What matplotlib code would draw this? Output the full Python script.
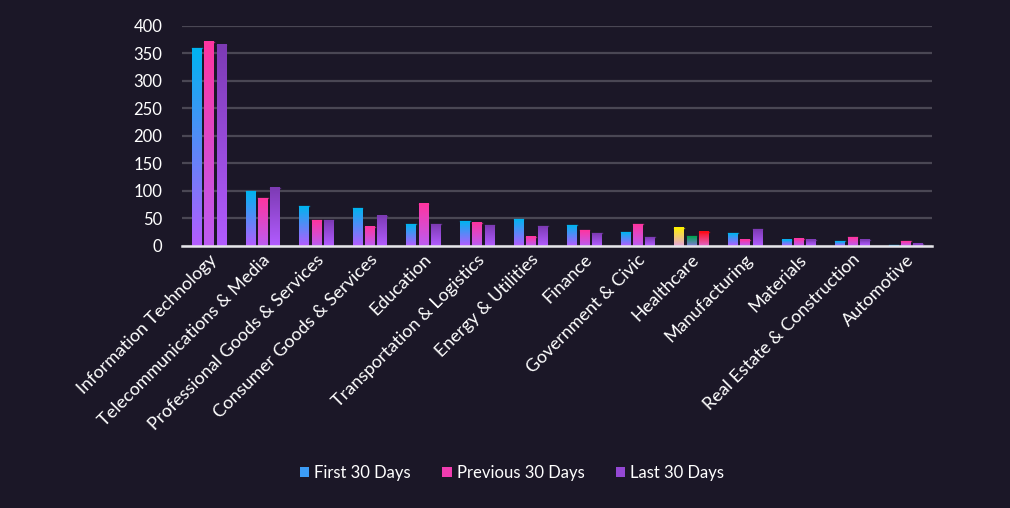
import matplotlib.pyplot as plt
import numpy as np
from matplotlib.colors import LinearSegmentedColormap
from matplotlib.patches import Patch

categories = ['Information Technology', 'Telecommunications & Media', 'Professional Goods & Services',
              'Consumer Goods & Services', 'Education', 'Transportation & Logistics', 'Energy & Utilities',
              'Finance', 'Government & Civic', 'Healthcare', 'Manufacturing', 'Materials',
              'Real Estate & Construction', 'Automotive']
first_30 = [360, 99, 72, 69, 40, 45, 49, 38, 25, 33, 23, 11, 8, 1]
previous_30 = [371, 87, 47, 35, 77, 42, 17, 28, 40, 18, 11, 13, 16, 8]
last_30 = [366, 106, 47, 55, 40, 38, 36, 23, 16, 26, 30, 11, 11, 4]
series_names = ['First 30 Days', 'Previous 30 Days', 'Last 30 Days']

# top / bottom colours of each series gradient
grad = [('#00b4f0', '#b45cff'), ('#ff35a0', '#bc5cf2'), ('#7d3bb4', '#b25cff')]
# healthcare bars use their own colours
special = {'Healthcare': [('#fff200', '#e6a6dc'), ('#00a550', '#8478d6'), ('#ff0a14', '#e066c8')]}

bg = '#1b1727'
plt.rcParams['font.family'] = ['Lato', 'DejaVu Sans']

fig = plt.figure(figsize=(10.1, 5.08), dpi=100, facecolor=bg)
ax = fig.add_axes([0.180, 0.516, 0.743, 0.433])
ax.set_facecolor(bg)

x = np.arange(len(categories))
w = 0.18
offs = [-0.23, 0, 0.23]
grad_img = np.linspace(1, 0, 100).reshape(-1, 1)

for s, vals in enumerate([first_30, previous_30, last_30]):
    for i, v in enumerate(vals):
        top, bot = grad[s]
        if categories[i] in special:
            top, bot = special[categories[i]][s]
        cmap = LinearSegmentedColormap.from_list('g', [bot, top])
        x0 = x[i] + offs[s] - w / 2 + 0.01
        ax.imshow(grad_img, extent=(x0, x0 + w, 0, v), aspect='auto', cmap=cmap,
                  vmin=0, vmax=1, zorder=3, interpolation='bilinear')
        ax.plot([x0, x0 + w], [v, v], color=top, lw=1, alpha=0.6, zorder=4)

ax.set_xlim(-0.5, len(categories) - 0.5)
ax.set_ylim(0, 400)
ax.set_yticks(range(0, 401, 50))
ax.grid(axis='y', color='#4a4754', lw=1.6, zorder=0)
ax.set_axisbelow(True)
for sp in ['top', 'right', 'left']:
    ax.spines[sp].set_visible(False)
ax.spines['bottom'].set_color('#e6e6ea')
ax.spines['bottom'].set_linewidth(1.8)
ax.spines['bottom'].set_zorder(5)
ax.tick_params(axis='both', length=0, colors='white')
ax.tick_params(axis='y', pad=14, labelsize=12)
ax.tick_params(axis='x', pad=4, labelsize=13)
ax.set_xticks(x)
ax.set_xticklabels(categories, rotation=45, ha='right', rotation_mode='anchor')

handles = [Patch(facecolor='#3c9cf6'), Patch(facecolor='#f03cb0'), Patch(facecolor='#9448d4')]
leg = fig.legend(handles, series_names, loc='center', bbox_to_anchor=(0.507, 0.069), ncol=3,
                 frameon=False, fontsize=12, labelcolor='white', handlelength=0.55,
                 handleheight=0.55, handletextpad=0.3, columnspacing=1.9)

fig.savefig('out.png', dpi=100, facecolor=bg)
